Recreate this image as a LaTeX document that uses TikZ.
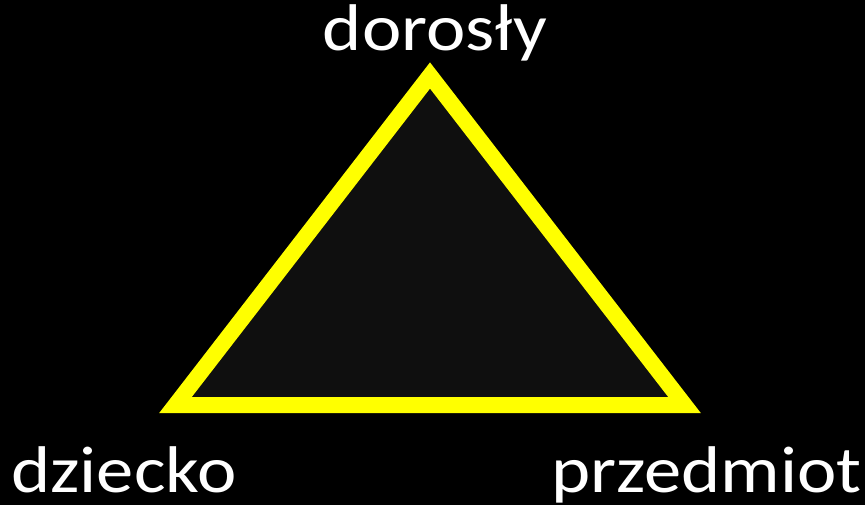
\documentclass[tikz,border=0pt]{standalone}
\usepackage{fontspec}
\setmainfont[FakeStretch=1.13]{Carlito}
\definecolor{tri}{HTML}{0F0F0F}
\definecolor{edge}{HTML}{FFFF00}
\tikzset{
  lbl/.style={text=white, inner sep=0pt, font=\fontsize{66}{70}\selectfont},
  corner/.style={inner sep=0pt, minimum size=0pt}
}
\begin{document}
\begin{tikzpicture}[x=1pt,y=-1pt]
\useasboundingbox[fill=black] (0,0) rectangle (865,505);
\coordinate (top) at (430,75.5);
\coordinate (bl) at (175.5,405);
\coordinate (br) at (684.5,405);
\draw[edge, line width=16pt, fill=tri, line join=miter] (top) -- (bl) -- (br) -- cycle;
\node[lbl, anchor=base] (adult) at (435,51) {dorosły};
\node[lbl, anchor=base west] (child) at (11,492) {dziecko};
\node[lbl, anchor=base west] (object) at (551,492) {przedmiot};
\end{tikzpicture}
\end{document}
